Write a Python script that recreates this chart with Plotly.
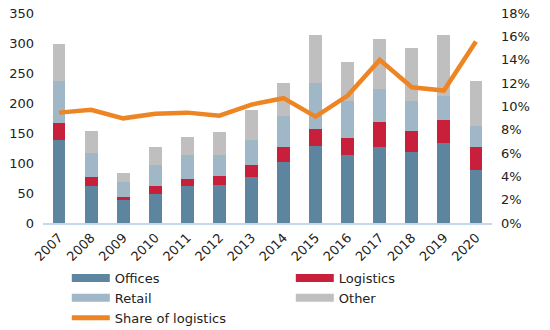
import plotly.graph_objects as go

years = ["2007", "2008", "2009", "2010", "2011", "2012", "2013",
         "2014", "2015", "2016", "2017", "2018", "2019", "2020"]
offices = [138, 61, 38, 49, 61, 64, 76, 101, 128, 113, 126, 119, 134, 89]
logistics = [28, 15, 6, 12, 13, 14, 20, 25, 28, 28, 43, 34, 37, 37]
retail = [70, 40, 24, 35, 39, 36, 42, 53, 77, 62, 55, 50, 40, 35]
other = [62, 38, 16, 30, 30, 37, 50, 55, 80, 66, 82, 88, 102, 75]
share_logistics = [0.0946, 0.097, 0.0897, 0.0937, 0.0946, 0.092, 0.1015,
                   0.107, 0.0911, 0.1092, 0.1398, 0.1163, 0.1135, 0.1556]

C_OFF = "#5E85A0"
C_LOG = "#C8203A"
C_RET = "#A0B7C7"
C_OTH = "#BFBFBF"
C_LINE = "#EE8524"

FONT = "DejaVu Sans"
TXT = "#222222"

fig = go.Figure()
for name, vals, col in [("Offices", offices, C_OFF), ("Logistics", logistics, C_LOG),
                        ("Retail", retail, C_RET), ("Other", other, C_OTH)]:
    fig.add_trace(go.Bar(x=years, y=vals, name=name, marker=dict(color=col, line=dict(width=0)),
                         showlegend=False, yaxis="y"))

fig.add_trace(go.Scatter(x=years, y=share_logistics, name="Share of logistics", mode="lines",
                         line=dict(color=C_LINE, width=4.5), yaxis="y2", showlegend=False))

# legend entries (wide swatches)
for name, col, w in [("Offices", C_OFF, 8), ("Logistics", C_LOG, 8), ("Retail", C_RET, 8),
                     ("Other", C_OTH, 8), ("Share of logistics", C_LINE, 5)]:
    fig.add_trace(go.Scatter(x=[None], y=[None], name=name, mode="lines",
                             line=dict(color=col, width=w), showlegend=True))

fig.update_layout(
    width=550, height=330,
    margin=dict(l=43, r=58, t=13, b=107, autoexpand=False),
    paper_bgcolor="white", plot_bgcolor="white",
    barmode="stack", bargap=0.6,
    font=dict(family=FONT, size=13, color=TXT),
    xaxis=dict(type="category", tickangle=-45, showgrid=False, showline=True, automargin=False,
               linecolor="#C5D7EA", linewidth=2, ticks="", tickfont=dict(size=13)),
    yaxis=dict(range=[0, 350], dtick=50, showgrid=False, zeroline=False, showline=False,
               automargin=False, ticks="", ticklabelstandoff=8, tickfont=dict(size=13)),
    yaxis2=dict(range=[0, 0.18], dtick=0.02, tickformat=".0%", overlaying="y", side="right",
                showgrid=False, zeroline=False, showline=False, ticks="", automargin=False,
                ticklabelstandoff=8, tickfont=dict(size=13)),
    legend=dict(orientation="h", x=0.053, xanchor="left", yref="container", y=1 - 263 / 330,
                yanchor="top", traceorder="normal",
                entrywidth=171, itemwidth=38, font=dict(size=13), tracegroupgap=0,
                bgcolor="rgba(0,0,0,0)", borderwidth=0),
    showlegend=True,
)

fig.write_html("out.html")
